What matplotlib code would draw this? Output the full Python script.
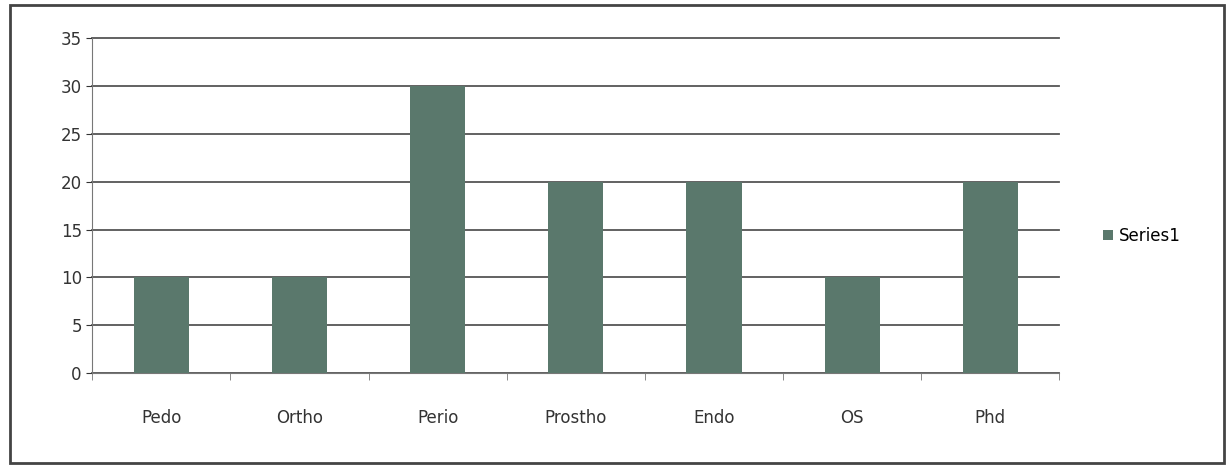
import matplotlib.pyplot as plt
from matplotlib.patches import Rectangle

categorias = ['Pedo', 'Ortho', 'Perio', 'Prostho', 'Endo', 'OS', 'Phd']
valores = [10, 10, 30, 20, 20, 10, 20]

fig = plt.figure(figsize=(12.29, 4.70), dpi=100)
ax = fig.add_axes([0.075, 0.206, 0.787, 0.713])

ax.bar(categorias, valores, width=0.4, color='#5a786c', label='Series1', zorder=3)
ax.set_ylim(0, 35)
ax.set_yticks(range(0, 36, 5))
ax.set_xlim(-0.5, len(categorias) - 0.5)
ax.grid(axis='y', color='#555555', linewidth=1.3, zorder=0)
for linea in ax.get_ygridlines():
    linea.set_clip_on(False)

# marcas entre categorias, estilo Excel
ax.set_xticks([i - 0.5 for i in range(len(categorias) + 1)], minor=True)
ax.tick_params(axis='x', which='minor', length=5, color='#777777')

for lado in ['top', 'right']:
    ax.spines[lado].set_visible(False)
ax.spines['left'].set_color('#777777')
ax.spines['bottom'].set_color('#777777')
ax.tick_params(axis='y', labelsize=12, colors='#333333', length=4)
ax.tick_params(axis='x', which='major', labelsize=12, colors='#333333', length=0, pad=26)

ax.legend(loc='center left', bbox_to_anchor=(1.03, 0.41), frameon=False,
          fontsize=12, handlelength=0.6, handleheight=0.6, handletextpad=0.3)

# Marco exterior del grafico
fig.patches.append(Rectangle((0.008, 0.015), 0.988, 0.975, transform=fig.transFigure,
                             fill=False, edgecolor='#444444', linewidth=2))

plt.savefig('out.png')
plt.close()
